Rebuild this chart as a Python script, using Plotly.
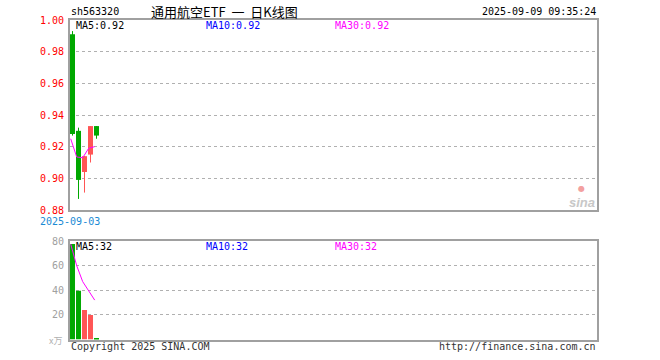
import plotly.graph_objects as go

# ---- data ----
symbol = "sh563320"
title_text = "通用航空ETF&nbsp;&nbsp;一&nbsp;&nbsp;日K线图"
timestamp = "2025-09-09 09:35:24"
first_date = "2025-09-03"

opens = [0.991, 0.930, 0.904, 0.915, 0.933]
highs = [0.993, 0.932, 0.914, 0.933, 0.933]
lows = [0.927, 0.887, 0.891, 0.910, 0.925]
closes = [0.928, 0.899, 0.914, 0.933, 0.927]
ma5_price = [0.925, 0.9135, 0.913, 0.919, 0.920]

volumes = [77.5, 39.5, 24.0, 20.0, 1.2]
ma5_vol = [77.5, 60.0, 47.0, 40.0, 32.0]

price_ticks = [0.88, 0.90, 0.92, 0.94, 0.96, 0.98, 1.00]
vol_ticks = [20, 40, 60, 80]

ma_price_labels = ["MA5:0.92", "MA10:0.92", "MA30:0.92"]
ma_vol_labels = ["MA5:32", "MA10:32", "MA30:32"]

# ---- styling ----
GREEN = "#00a800"
RED = "#ff5555"
MONO = "DejaVu Sans Mono"
W, H = 660, 360
X0, X1 = 70, 597
PITCH = 6.0  # px per slot

idx = list(range(len(opens)))
up = [c > o for o, c in zip(opens, closes)]
colors = [RED if u else GREEN for u in up]
body_base = [min(o, c) for o, c in zip(opens, closes)]
body_h = [max(abs(c - o), 0.0008) for o, c in zip(opens, closes)]

xr = [-2.5 / PITCH, -2.5 / PITCH + (X1 - X0) / PITCH]

def py(p):
    return 1 - p / H

fig = go.Figure()

# wicks
for i in idx:
    fig.add_trace(go.Scatter(x=[i, i], y=[lows[i], highs[i]], mode="lines",
                             line=dict(color=colors[i], width=1),
                             xaxis="x", yaxis="y", hoverinfo="skip", showlegend=False))
# bodies
fig.add_trace(go.Bar(x=idx, y=body_h, base=body_base, marker=dict(color=colors, line=dict(width=0)),
                     width=0.83, xaxis="x", yaxis="y", showlegend=False, hoverinfo="skip"))
# MA5 price
fig.add_trace(go.Scatter(x=[i - 0.3 for i in idx], y=ma5_price, mode="lines",
                         line=dict(color="#ff00ff", width=1), xaxis="x", yaxis="y",
                         showlegend=False, hoverinfo="skip"))
# volume bars
fig.add_trace(go.Bar(x=idx, y=volumes, marker=dict(color=colors, line=dict(width=0)),
                     width=0.83, xaxis="x2", yaxis="y2", showlegend=False, hoverinfo="skip"))
fig.add_trace(go.Scatter(x=[i - 0.3 for i in idx], y=ma5_vol, mode="lines",
                         line=dict(color="#ff00ff", width=1), xaxis="x2", yaxis="y2",
                         showlegend=False, hoverinfo="skip"))

axis_common = dict(showline=True, mirror=True, linecolor="#a0a0a0", linewidth=2,
                   zeroline=False, fixedrange=True)

fig.update_layout(
    width=W, height=H, margin=dict(l=0, r=0, t=0, b=0), autosize=False,
    paper_bgcolor="white", plot_bgcolor="white", barmode="overlay",
    xaxis=dict(domain=[X0 / W, X1 / W], range=xr, showgrid=False, showticklabels=False,
               anchor="y", automargin=False, **axis_common),
    yaxis=dict(domain=[py(210), py(20)], range=[0.88, 1.00], tickvals=price_ticks,
               ticktext=[f"{v:.2f}" for v in price_ticks],
               tickfont=dict(family=MONO, size=10, color="#ff0000"),
               showgrid=True, gridcolor="#b0b0b0", griddash="dot", gridwidth=1,
               ticks="", ticklabelstandoff=2, anchor="x", automargin=False, **axis_common),
    xaxis2=dict(domain=[X0 / W, X1 / W], range=xr, showgrid=False, showticklabels=False,
                anchor="y2", automargin=False, **axis_common),
    yaxis2=dict(domain=[py(339.5), py(241)], range=[0, 80], tickvals=vol_ticks,
                tickfont=dict(family=MONO, size=10, color="#a0a0a0"),
                showgrid=True, gridcolor="#b0b0b0", griddash="dot", gridwidth=1,
                ticks="", ticklabelstandoff=2, anchor="x2", automargin=False, **axis_common),
)

def txt(x, y, s, color="#000", size=10, anchor="left", family=MONO, **kw):
    fig.add_annotation(x=x / W, y=py(y), xref="paper", yref="paper", text=s, showarrow=False,
                       xanchor=anchor, yanchor="middle",
                       font=dict(family=family, size=size, color=color), **kw)

txt(69, 12, symbol)
txt(224, 12, title_text, size=13, anchor="center", family="Noto Sans CJK SC")
txt(598, 12, timestamp, anchor="right")

ma_x = [74, 204, 333]
ma_cols = ["#000000", "#0000ff", "#ff00ff"]
for xx, s, c in zip(ma_x, ma_price_labels, ma_cols):
    txt(xx, 26, s, color=c)
for xx, s, c in zip(ma_x, ma_vol_labels, ma_cols):
    txt(xx, 246, s, color=c)

txt(70, 221, first_date, color="#1a8ad4", anchor="center")
txt(64, 340, "x万", color="#b0b0b0", size=9, anchor="right", family="Noto Sans CJK SC")
txt(69, 346, "Copyright 2025 SINA.COM", color="#333333")
txt(598, 346, "http://finance.sina.com.cn", color="#333333", anchor="right")
txt(597, 202, "<b><i>sina</i></b>", color="#c8c8c8", size=13, anchor="right", family="Arial")
txt(581, 188, "●", color="#f3a0a0", size=8, anchor="center", family="DejaVu Sans")

fig.write_html("out.html", config={"displayModeBar": False},
               post_script="document.body.style.margin='0';")
